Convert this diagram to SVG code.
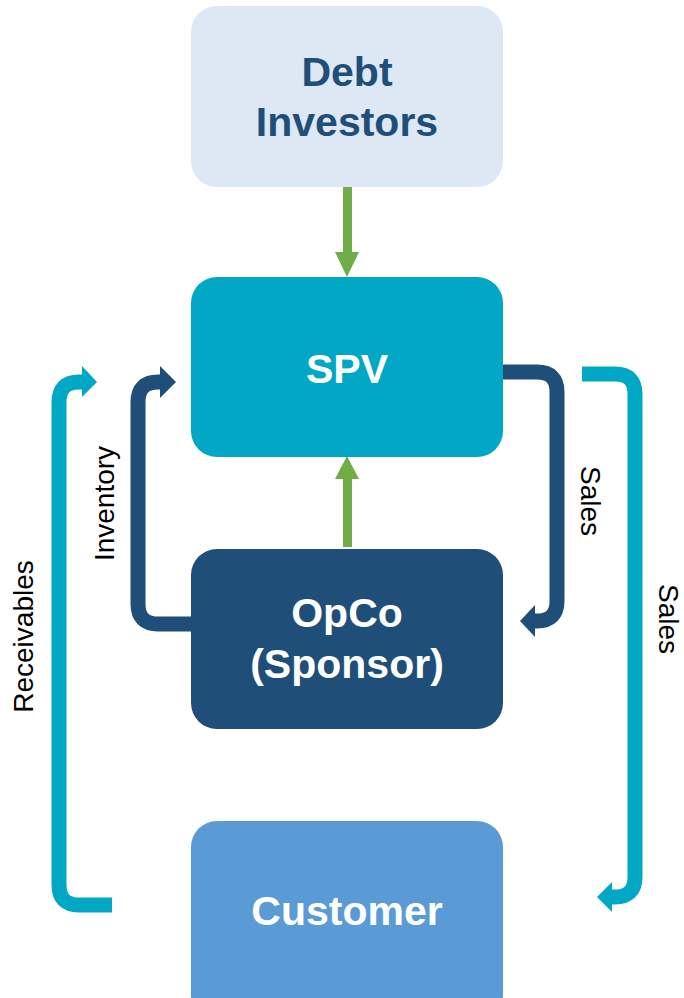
<svg xmlns="http://www.w3.org/2000/svg" width="684" height="998" viewBox="0 0 684 998">
<style>
.box{stroke:none}
.t{font-family:"Liberation Sans",Arial,sans-serif;font-weight:bold;font-size:41px;text-anchor:middle}
.lbl{font-family:"Liberation Sans",Arial,sans-serif;font-size:28px;text-anchor:middle;fill:#000}
.navy{fill:none;stroke:#1f4e79;stroke-width:15}
.cyan{fill:none;stroke:#00a8c6;stroke-width:15}
</style>
<rect width="684" height="998" fill="#ffffff"/>
<g id="connectors">
  <rect x="343" y="187" width="9" height="66" fill="#70ad47"/>
  <polygon points="335,252 359,252 347,277" fill="#70ad47"/>
  <rect x="343" y="478" width="9" height="69" fill="#70ad47"/>
  <polygon points="335,479 359,479 347,456" fill="#70ad47"/>
  <path class="navy" d="M191,624 H158 Q138,624 138,604 V402 Q138,382 158,382 H162"/>
  <polygon points="160,366 176,382 160,398" fill="#1f4e79"/>
  <path class="cyan" d="M112,905 H79 Q59,905 59,885 V402 Q59,382 79,382 H84"/>
  <polygon points="82,366 97,382 82,397" fill="#00a8c6"/>
  <path class="navy" d="M503,372 H537 Q557,372 557,392 V601 Q557,621 537,621 H533"/>
  <polygon points="535,605 520,621 535,637" fill="#1f4e79"/>
  <path class="cyan" d="M582,374 H615 Q635,374 635,394 V877 Q635,897 615,897 H610"/>
  <polygon points="612,882 597,897 612,912" fill="#00a8c6"/>
  <text class="lbl" transform="translate(114,503.5) rotate(-90)">Inventory</text>
  <text class="lbl" transform="translate(33,636.5) rotate(-90)">Receivables</text>
  <text class="lbl" transform="translate(581,501) rotate(90)">Sales</text>
  <text class="lbl" transform="translate(659,619) rotate(90)">Sales</text>
</g>
<g id="debt-investors">
  <rect class="box" x="191" y="6" width="312" height="181" rx="26" fill="#dde8f4"/>
  <text class="t" x="347" y="86" fill="#1f4e79">Debt</text>
  <text class="t" x="347" y="136" fill="#1f4e79">Investors</text>
</g>
<g id="spv">
  <rect class="box" x="191" y="277" width="312" height="180" rx="26" fill="#00a8c6"/>
  <text class="t" x="347" y="383" fill="#ffffff">SPV</text>
</g>
<g id="opco">
  <rect class="box" x="191" y="549" width="312" height="180" rx="26" fill="#1f4e79"/>
  <text class="t" x="347" y="627" fill="#ffffff">OpCo</text>
  <text class="t" x="347" y="678" fill="#ffffff">(Sponsor)</text>
</g>
<g id="customer">
  <rect class="box" x="191" y="821" width="312" height="200" rx="26" fill="#5b9bd5"/>
  <text class="t" x="347" y="925" fill="#ffffff">Customer</text>
</g>
</svg>
